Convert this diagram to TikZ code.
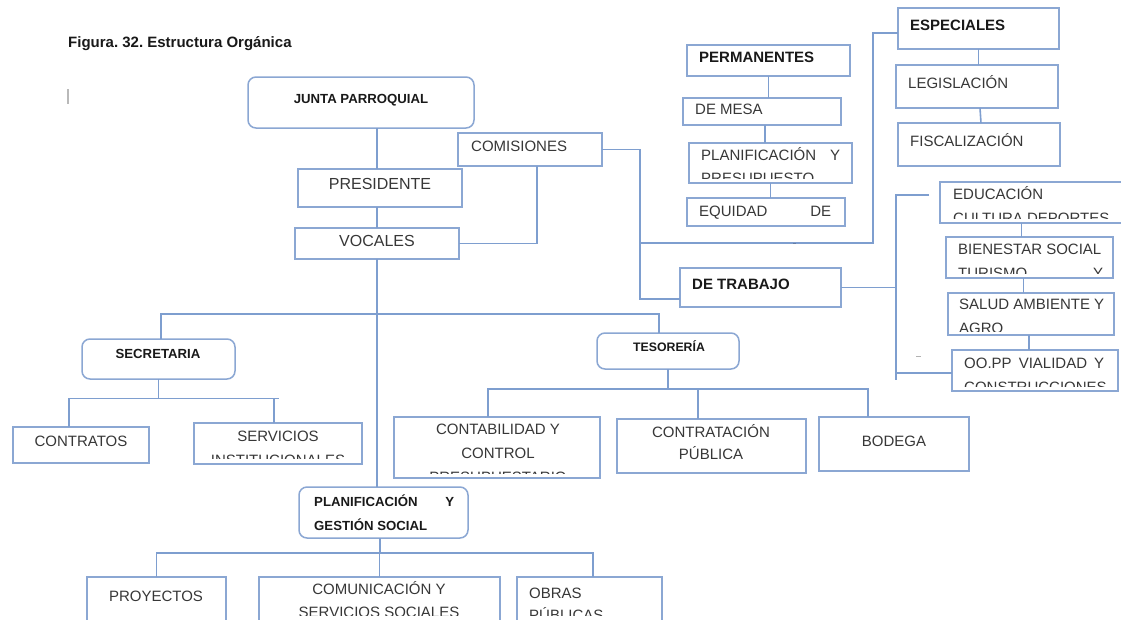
\documentclass[tikz,border=0pt]{standalone}
\usepackage{fontspec}
\setmainfont{Liberation Sans}
\usetikzlibrary{calc}
\definecolor{boxc}{RGB}{139,167,211}
\definecolor{linec}{RGB}{126,158,207}
\definecolor{txtc}{RGB}{55,55,55}
\definecolor{boldc}{RGB}{25,25,25}
\newcommand\bx[6][]{\node[#1, minimum width={#5-#3}, minimum height={#6-#4}] (#2) at ({(#3+#5)/2},{(#4+#6)/2}) {};}
\frenchspacing
\begin{document}
\begin{tikzpicture}[x=1pt,y=-1pt,
  sq/.style={draw=boxc, line width=1.5pt, inner sep=0pt, outer sep=0pt, rectangle},
  rd/.style={sq, rounded corners=8pt},
  ln/.style={draw=linec, line width=1.6pt},
  r15/.style={font=\fontsize{15}{18}\selectfont, text=txtc, inner sep=0pt},
  r16/.style={font=\fontsize{16}{19}\selectfont, text=txtc, inner sep=0pt},
  b15/.style={font=\fontsize{15}{18}\selectfont\bfseries, text=boldc, inner sep=0pt},
  b13/.style={font=\fontsize{13.2}{16}\selectfont\bfseries, text=boldc, inner sep=0pt},
  b12/.style={font=\fontsize{12.3}{15}\selectfont\bfseries, text=boldc, inner sep=0pt}]
\useasboundingbox (0,0) rectangle (1121,619);
\fill[white] (0,0) rectangle (1121,619);
\clip (0,0) rectangle (1121,619);

% title
\node[b15, anchor=base west] (title) at (68,47.4) {Figura. 32. Estructura Orgánica};
\draw[gray!55, line width=1.5pt] (68,89) -- (68,104);

% boxes
\bx[rd]{jp}{248}{77}{474}{128}
\bx[sq]{pres}{298}{169}{462}{207}
\bx[sq]{voc}{295}{228}{459}{259}
\bx[sq]{com}{458}{133}{602}{166}
\bx[sq]{perm}{687}{45}{850}{76}
\bx[sq]{mesa}{683}{98}{841}{125}
\bx[sq]{plpr}{689}{143}{852}{183}
\bx[sq]{eq}{687}{198}{845}{226}
\bx[sq]{esp}{898}{8}{1059}{49}
\bx[sq]{leg}{896}{65}{1058}{108}
\bx[sq]{fis}{898}{123}{1060}{166}
\bx[sq]{trab}{680}{268}{841}{307}
\bx[sq]{edu}{940}{182}{1128}{223}
\bx[sq]{bien}{946}{237}{1113}{278}
\bx[sq]{salud}{948}{293}{1114}{335}
\bx[sq]{oopp}{952}{350}{1118}{391}
\bx[rd]{secr}{82}{339}{235}{379}
\bx[sq]{contr}{13}{427}{149}{463}
\bx[sq]{serv}{194}{423}{362}{464}
\bx[rd]{teso}{597}{333}{739}{369}
\bx[sq]{cont}{394}{417}{600}{478}
\bx[sq]{ctrp}{617}{419}{806}{473}
\bx[sq]{bod}{819}{417}{969}{471}
\bx[rd]{plgs}{299}{487}{468}{538}
\bx[sq]{proy}{87}{577}{226}{640}
\bx[sq]{comu}{259}{577}{500}{640}
\bx[sq]{obras}{517}{577}{662}{640}

% texts
\node[b13, anchor=base] (jp-t) at (361,103.7) {JUNTA PARROQUIAL};
\node[r16, anchor=base] (pres-t) at (380,189.8) {PRESIDENTE};
\node[r16, anchor=base] (voc-t) at (377,246.8) {VOCALES};
\node[r15, anchor=base west] (com-t) at (471,151.4) {COMISIONES};
\node[b15, anchor=base west] (perm-t) at (699,62.4) {PERMANENTES};
\node[r15, anchor=base west] (mesa-t) at (695,114.4) {DE MESA};
\begin{scope}
\clip (plpr.north west) rectangle ([yshift=5pt]plpr.south east);
\node[r15, anchor=base west] (plpr-t1) at (701,160.4) {\hbox to 139pt{PLANIFICACIÓN\hfill Y}};
\node[r15, anchor=base west] (plpr-t2) at (701,183.9) {PRESUPUESTO};
\end{scope}
\node[r15, anchor=base west] (eq-t) at (699,216.4) {\hbox to 132pt{EQUIDAD\hfill DE}};
\node[b15, anchor=base west] (esp-t) at (910,30.4) {ESPECIALES};
\node[r15, anchor=base west] (leg-t) at (908,88.4) {LEGISLACIÓN};
\node[r15, anchor=base west] (fis-t) at (910,146.4) {FISCALIZACIÓN};
\node[b15, anchor=base west] (trab-t) at (692,289.4) {DE TRABAJO};
\begin{scope}
\clip (edu.north west) rectangle ([yshift=4.5pt]edu.south east);
\node[r15, anchor=base west] (edu-t1) at (953,199.4) {EDUCACIÓN};
\node[r15, anchor=base west] (edu-t2) at (953,223.9) {CULTURA DEPORTES};
\end{scope}
\begin{scope}
\clip (bien.north west) rectangle ([yshift=4.5pt]bien.south east);
\node[r15, anchor=base west] (bien-t1) at (958,254.4) {BIENESTAR SOCIAL};
\node[r15, anchor=base west] (bien-t2) at (958,278.4) {\hbox to 145pt{TURISMO\hfill Y}};
\end{scope}
\begin{scope}
\clip (salud.north west) rectangle ([yshift=4pt]salud.south east);
\node[r15, anchor=base west] (salud-t1) at (959,309.4) {SALUD AMBIENTE Y};
\node[r15, anchor=base west] (salud-t2) at (959,333.4) {AGRO};
\end{scope}
\begin{scope}
\clip (oopp.north west) rectangle ([yshift=4.5pt]oopp.south east);
\node[r15, anchor=base west] (oopp-t1) at (964,368.4) {\hbox to 140pt{OO.PP\hfill VIALIDAD\hfill Y}};
\node[r15, anchor=base west] (oopp-t2) at (964,392.4) {CONSTRUCCIONES};
\end{scope}
\node[b13, anchor=base] (secr-t) at (158,358.7) {SECRETARIA};
\node[r15, anchor=base] (contr-t) at (81,446.4) {CONTRATOS};
\begin{scope}
\clip (serv.north west) rectangle ([yshift=5.5pt]serv.south east);
\node[r15, anchor=base] (serv-t1) at (278,441.4) {SERVICIOS};
\node[r15, anchor=base] (serv-t2) at (278,465.4) {INSTITUCIONALES};
\end{scope}
\node[b12, anchor=base] (teso-t) at (669,351.4) {TESORERÍA};
\begin{scope}
\clip (cont.north west) rectangle ([yshift=5pt]cont.south east);
\node[r15, anchor=base] (cont-t1) at (498,434.4) {CONTABILIDAD Y};
\node[r15, anchor=base] (cont-t2) at (498,458.4) {CONTROL};
\node[r15, anchor=base] (cont-t3) at (498,482.4) {PRESUPUESTARIO};
\end{scope}
\node[r15, anchor=base] (ctrp-t1) at (711,437.4) {CONTRATACIÓN};
\node[r15, anchor=base] (ctrp-t2) at (711,459.4) {PÚBLICA};
\node[r15, anchor=base] (bod-t) at (894,446.4) {BODEGA};
\begin{scope}
\clip (plgs.north west) rectangle ([yshift=7pt]plgs.south east);
\node[b13, anchor=base west] (plgs-t1) at (314,506.7) {\hbox to 140pt{PLANIFICACIÓN\hfill Y}};
\node[b13, anchor=base west] (plgs-t2) at (314,530.7) {GESTIÓN SOCIAL};
\end{scope}
\begin{scope}
\clip (0,570) rectangle (1121,615);
\node[r15, anchor=base] (proy-t) at (156,601.4) {PROYECTOS};
\node[r15, anchor=base] (comu-t1) at (379,594.4) {COMUNICACIÓN Y};
\node[r15, anchor=base] (comu-t2) at (379,617.4) {SERVICIOS SOCIALES};
\node[r15, anchor=base west] (obras-t1) at (529,598.4) {OBRAS};
\node[r15, anchor=base west] (obras-t2) at (529,620.4) {PÚBLICAS};
\end{scope}

% helper coordinates
\coordinate (h243) at (0,243);
\coordinate (cs) at ([xshift=7pt]com.south);
\coordinate (cj) at ([xshift=38pt]com.east);
\coordinate (cj2) at (cj |- h243);
\coordinate (tw) at ([yshift=-11.5pt]trab.west);
\coordinate (ew) at ([yshift=-4.5pt]esp.west);
\coordinate (ek) at ([xshift=-25pt]ew);
\coordinate (ms) at ([xshift=3pt]mesa.south);
\coordinate (ls) at ([xshift=3pt]leg.south);
\coordinate (fn) at ([xshift=2pt]fis.north);
\coordinate (tj) at ([xshift=55pt]trab.east);
\coordinate (edugap) at ([xshift=-11pt,yshift=7.5pt]edu.west);
\coordinate (ob) at (tj |- oopp.south);
\coordinate (obe) at ([yshift=11pt]ob);
\coordinate (ow) at ([yshift=-2.5pt]oopp.west);
\coordinate (bn) at ([xshift=-8pt]bien.north);
\coordinate (bs) at ([xshift=-6pt]bien.south);
\coordinate (ss) at ([xshift=-2pt]salud.south);

% connectors: top trunk
\draw[ln] (voc.north |- jp.south) -- (voc.north |- pres.north);
\draw[ln] (voc.north |- pres.south) -- (voc.north);
\draw[ln] (voc.south) -- (voc.south |- plgs.north);
% comisiones
\draw[ln] (cs) -- (cs |- voc.east) -- (voc.east);
\draw[ln] (com.east) -- (cj) -- (cj |- tw) -- (tw);
\draw[ln] (cj2) -- (ek |- cj2) -- (ek) -- (ew);
\draw[linec!80!black, line width=1.2pt] (793,243.5) -- (796,243.5);
% permanentes column
\draw[ln] (perm.south) -- (perm.south |- mesa.north);
\draw[ln] (ms) -- (ms |- plpr.north);
\draw[ln] (plpr.south) -- (plpr.south |- eq.north);
% especiales column
\draw[ln] (esp.south) -- (esp.south |- leg.north);
\draw[ln] (ls) -- (fn);
% de trabajo column
\draw[ln] (trab.east) -- (tj);
\draw[ln] (edugap) -- (edugap -| tj) -- (obe);
\draw[ln] (ow -| tj) -- (ow);
\draw[ln] (bn |- edu.south) -- (bn);
\draw[ln] (bs) -- (bs |- salud.north);
\draw[ln] (ss) -- (ss |- oopp.north);
\draw[gray!60, line width=1pt] (916,356) -- (921,356);
% secretaria / tesoreria
\draw[ln] ([xshift=2.5pt]secr.north) -- ++(0,-25) -| ([xshift=-9pt]teso.north);
\draw[ln] (secr.south) -- ++(0,19.5);
\draw[ln] ([xshift=-12pt]contr.north) -- ++(0,-28.5) -- ++(210,0);
\draw[ln] ([xshift=-4pt]serv.north) -- ++(0,-24.5);
\draw[ln] (teso.south) -- ++(0,20);
\draw[ln] ([xshift=-9pt]cont.north) -- ++(0,-28) -| ([xshift=-26pt]bod.north);
\draw[ln] ([xshift=-13.5pt]ctrp.north) -- ++(0,-30);
% planificacion y gestion social
\draw[ln] ([xshift=-3.5pt]plgs.south) -- ++(0,15);
\draw[ln] (proy.north) -- ++(0,-24) -| ([xshift=3.5pt]obras.north);
\draw[ln] (comu.north) -- ++(0,-24);
\end{tikzpicture}
\end{document}
